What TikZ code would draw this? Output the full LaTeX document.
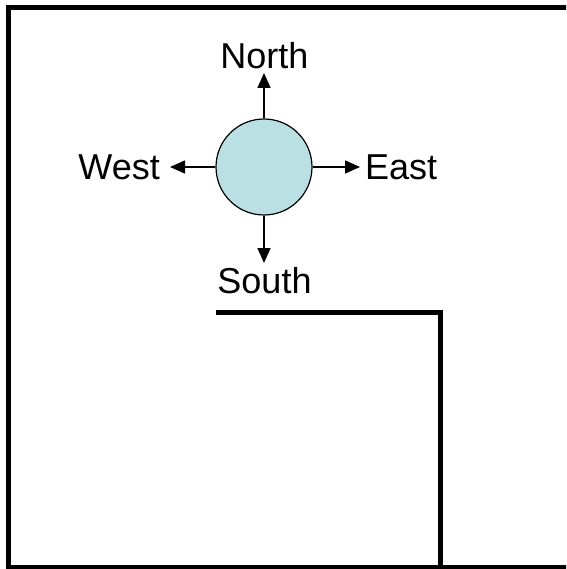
\documentclass[tikz,border=0pt]{standalone}
\usepackage{fontspec}
\setmainfont{Liberation Sans}
\usetikzlibrary{arrows.meta}
\definecolor{ballblue}{RGB}{187,224,228}
\tikzset{
  wall/.style={line width=5pt, line join=miter},
  compass/.style={line width=1.6pt, -{Triangle[length=15pt,width=13pt]}},
  dirlabel/.style={inner sep=0pt, font=\fontsize{36}{40}\selectfont}
}
\begin{document}
\begin{tikzpicture}[x=1pt,y=-1pt]
            \useasboundingbox (0,0) rectangle (566,569);
            \clip (0,0) rectangle (566,569);

            \draw[wall] (8,7.5) rectangle (570.5,567.5);
            \draw[wall] (216,312) -- (440,312) -- (440,580);

            \node[circle, draw, line width=1.2pt, fill=ballblue, inner sep=0pt, minimum size=96pt] (ball) at (264,167) {};

            \coordinate (n) at (264,73);
            \coordinate (s) at (264,263);
            \coordinate (w) at (170,167);
            \coordinate (e) at (360,167);

            \node[dirlabel, anchor=base] (north) at (264.5,69) {North};
            \node[dirlabel, anchor=base] (south) at (264.5,293) {South};
            \node[dirlabel, anchor=base east] (west) at (160,180) {West};
            \node[dirlabel, anchor=base west] (east) at (365,180) {East};

            \draw[compass] (ball) to (n); \draw[compass] (ball) to (s);
            \draw[compass] (ball) to (w); \draw[compass] (ball) to (e);
        \end{tikzpicture}
\end{document}
